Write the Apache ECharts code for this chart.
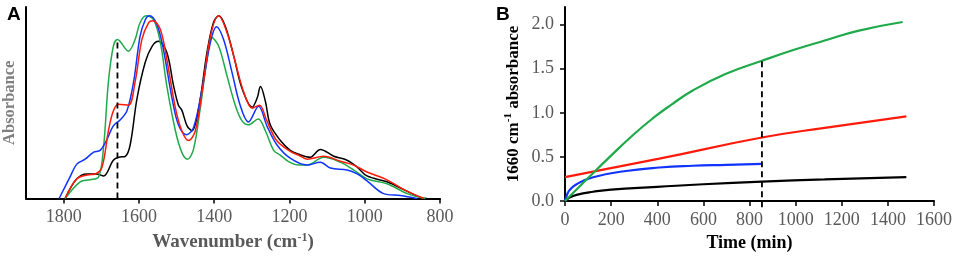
<!DOCTYPE html>
<html>
<head>
<meta charset="utf-8">
<title>FTIR spectra and 1660 cm-1 kinetics</title>
<script src="https://cdn.jsdelivr.net/npm/echarts@6/dist/echarts.min.js"></script>
<style>
  html, body { margin: 0; padding: 0; background: #fff; }
  #chart { width: 955px; height: 257px; }
</style>
</head>
<body>
<div id="chart"></div>
<script>
// ---- panel A: spectra, [wavenumber (cm-1), absorbance (a.u.)]
const specBlack = [[1796,0],[1765,20],[1738,25],[1712,25],[1694,23],[1668,39],[1654,42],[1636,43],[1623,55],[1605,102],[1583,139],[1565,155],[1548,160],[1526,149],[1508,115],[1495,95],[1486,90],[1472,74],[1459,69],[1441,92],[1419,149],[1402,179],[1388,186],[1370,175],[1348,145],[1326,112],[1299,93],[1286,102],[1277,114],[1264,99],[1251,75],[1224,59],[1198,49],[1175,45],[1145,42],[1118,50],[1082,43],[1047,39],[1020,32],[994,23],[941,17],[896,9],[852,1],[834,0]];
const specRed = [[1796,0],[1765,20],[1738,24],[1716,25],[1698,32],[1681,69],[1668,89],[1654,96],[1628,95],[1610,119],[1592,162],[1574,179],[1563,181],[1543,172],[1526,142],[1503,92],[1486,69],[1468,59],[1450,69],[1432,109],[1410,165],[1388,186],[1366,169],[1344,139],[1322,109],[1299,92],[1280,95],[1260,79],[1234,59],[1198,48],[1175,44],[1153,40],[1109,43],[1065,38],[1029,34],[994,27],[941,19],[896,9],[843,0]];
const specBlue = [[1812,0],[1783,22],[1765,35],[1743,40],[1721,47],[1703,49],[1685,60],[1668,74],[1650,80],[1632,89],[1614,119],[1597,165],[1583,182],[1572,186],[1552,177],[1535,152],[1512,102],[1495,75],[1474,65],[1455,72],[1432,112],[1410,159],[1394,175],[1375,162],[1353,129],[1331,95],[1309,78],[1282,94],[1260,74],[1234,55],[1198,41],[1153,34],[1118,37],[1091,31],[1047,29],[1020,25],[994,18],[950,5],[905,3],[861,0]];
const specGreen = [[1796,0],[1756,17],[1730,19],[1707,22],[1694,52],[1681,119],[1668,155],[1657,162],[1628,150],[1610,162],[1597,179],[1581,186],[1561,182],[1543,159],[1526,115],[1503,69],[1486,47],[1471,40],[1455,50],[1437,92],[1419,142],[1406,164],[1388,155],[1366,125],[1344,95],[1326,79],[1309,75],[1283,81],[1264,69],[1242,49],[1224,44],[1200,37],[1175,34],[1153,34],[1109,42],[1065,37],[1029,29],[994,20],[941,15],[887,5],[839,0]];
const markWavenumber = 1657;
const markTop = 162;
const wnTicks = [800, 1000, 1200, 1400, 1600, 1800];

// ---- panel B: 1660 cm-1 absorbance vs time, [min, absorbance]
const kinGreen = [[0,0],[100,0.26],[194,0.5],[300,0.76],[387,0.95],[460,1.09],[552,1.25],[696,1.44],[854,1.59],[1000,1.72],[1126,1.82],[1270,1.93],[1464,2.03]];
const kinRed = [[0,0.27],[409,0.48],[854,0.72],[1126,0.83],[1480,0.96]];
const kinBlue = [[0,0],[10,0.08],[22,0.13],[50,0.19],[122,0.27],[265,0.34],[409,0.38],[552,0.4],[700,0.41],[854,0.42]];
const kinBlack = [[0,0],[20,0.04],[50,0.07],[122,0.105],[200,0.13],[400,0.16],[600,0.19],[854,0.22],[1126,0.245],[1480,0.27]];
const markTime = 854;
const markTimeTop = 1.59;
const absTicks = [0, 0.5, 1, 1.5, 2];

const serif = "'Liberation Serif', 'Times New Roman', serif";
const C = { black: '#000000', red: '#ff1a0a', blue: '#1033ff', green: '#1faa4a' };
const FS = 18;

function sup(color, size) {
  return { color, fontFamily: serif, fontSize: size, fontWeight: 'bold', verticalAlign: 'top', lineHeight: 22 };
}
function spec(data, color) {
  return { type: 'line', xAxisIndex: 0, yAxisIndex: 0, data, smooth: 0.35, showSymbol: false,
    lineStyle: { color, width: 1.5 }, z: 3 };
}
function kin(data, color) {
  return { type: 'line', xAxisIndex: 1, yAxisIndex: 1, data, smooth: 0.5,
    showSymbol: false, lineStyle: { color, width: 2.2 }, z: 3 };
}

const chart = echarts.init(document.getElementById('chart'));
chart.setOption({
  animation: false,
  title: [
    { text: 'A', left: 2, top: 0, textStyle: { fontFamily: 'Liberation Sans, Arial', fontWeight: 'bold', fontSize: 19, color: '#000' } },
    { text: 'B', left: 491, top: 0, textStyle: { fontFamily: 'Liberation Sans, Arial', fontWeight: 'bold', fontSize: 19, color: '#000' } }
  ],
  grid: [
    { left: 25, right: 515, top: 7, bottom: 55 },
    { left: 565, right: 18, top: 7, bottom: 55 }
  ],
  xAxis: [
    {
      gridIndex: 0, type: 'value', inverse: true, min: 800, max: 1900, interval: 200,
      axisLine: { lineStyle: { color: '#000', width: 2 } },
      axisTick: { customValues: wnTicks, length: 5, lineStyle: { color: '#000', width: 1.5 } },
      axisLabel: { customValues: wnTicks, margin: 10, color: '#595959', fontFamily: serif, fontSize: FS,
        formatter: v => String(v) },
      splitLine: { show: false },
      name: 'Wavenumber (cm{sup|-1})', nameLocation: 'middle', nameGap: 33,
      nameTextStyle: { color: '#595959', fontFamily: serif, fontWeight: 'bold', fontSize: 19, rich: { sup: sup('#595959', 12) } }
    },
    {
      gridIndex: 1, type: 'value', min: 0, max: 1600, interval: 200,
      axisLine: { lineStyle: { color: '#000', width: 2 } },
      axisTick: { length: 5, lineStyle: { color: '#000', width: 1.5 } },
      axisLabel: { margin: 10, color: '#595959', fontFamily: serif, fontSize: FS, formatter: v => String(v) },
      splitLine: { show: false },
      name: 'Time (min)', nameLocation: 'middle', nameGap: 33,
      nameTextStyle: { color: '#000', fontFamily: serif, fontWeight: 'bold', fontSize: 18 }
    }
  ],
  yAxis: [
    {
      gridIndex: 0, type: 'value', min: 0, max: 195,
      axisLine: { show: true, lineStyle: { color: '#000', width: 2 } },
      axisTick: { show: false }, axisLabel: { show: false }, splitLine: { show: false },
      name: 'Absorbance', nameLocation: 'middle', nameGap: 8,
      nameTextStyle: { color: '#7f7f7f', fontFamily: serif, fontWeight: 'bold', fontSize: 16.5 }
    },
    {
      gridIndex: 1, type: 'value', min: 0, max: 2.2, interval: 0.5,
      axisLine: { show: true, lineStyle: { color: '#000', width: 2 } },
      axisTick: { show: true, customValues: absTicks, length: 5, lineStyle: { color: '#000', width: 1.5 } },
      axisLabel: { customValues: absTicks, margin: 11, color: '#595959', fontFamily: serif, fontSize: FS,
        formatter: v => v.toFixed(1) },
      splitLine: { show: false },
      name: '1660 cm{sup|-1} absorbance', nameLocation: 'middle', nameGap: 40,
      nameTextStyle: { color: '#000', fontFamily: serif, fontWeight: 'bold', fontSize: 17, rich: { sup: sup('#000', 11) } }
    }
  ],
  series: [
    spec(specBlack, C.black),
    spec(specGreen, C.green),
    spec(specBlue, C.blue),
    spec(specRed, C.red),
    { type: 'line', xAxisIndex: 0, yAxisIndex: 0, data: [[markWavenumber, 0], [markWavenumber, markTop]],
      showSymbol: false, lineStyle: { color: '#000', width: 1.8, type: [6, 4] }, z: 4 },
    kin(kinBlack, C.black),
    kin(kinRed, C.red),
    kin(kinBlue, C.blue),
    kin(kinGreen, C.green),
    { type: 'line', xAxisIndex: 1, yAxisIndex: 1, data: [[markTime, -0.07], [markTime, markTimeTop]], clip: false,
      showSymbol: false, lineStyle: { color: '#000', width: 1.8, type: [6, 4] }, z: 4 }
  ]
});
</script>
</body>
</html>
